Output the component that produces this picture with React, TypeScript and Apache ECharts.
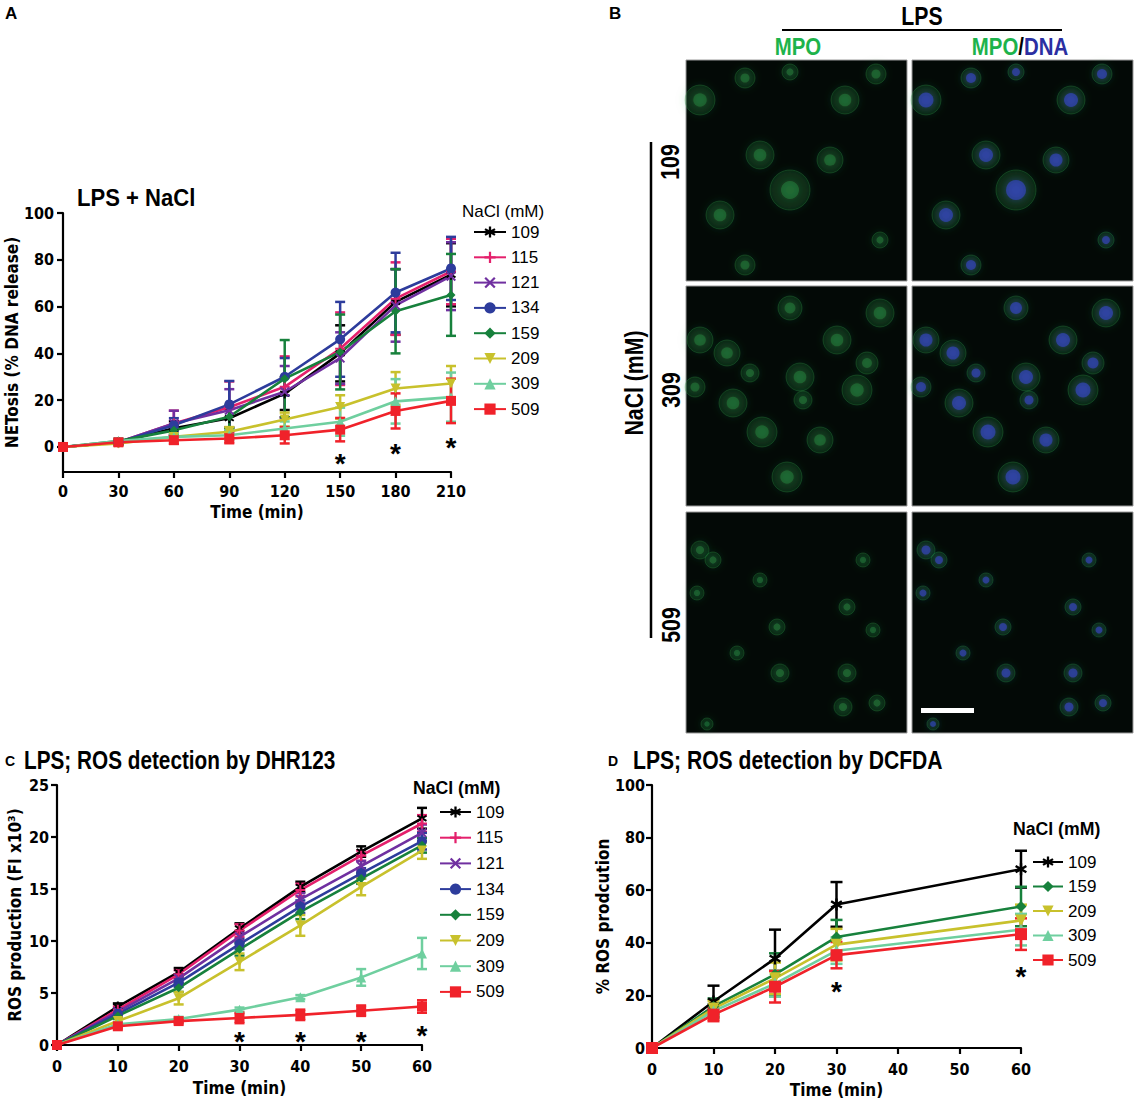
import React, { useEffect, useRef } from "react";
import * as echarts from "echarts";

const NARROW = "'DejaVu Sans Condensed', 'Liberation Sans', sans-serif";
const SANS = "'Liberation Sans', Arial, Helvetica, sans-serif";

// ---------- Panel A : NETosis (% DNA release) ----------
const concA = ["109", "115", "121", "134", "159", "209", "309", "509"];
const timeA = [0, 30, 60, 90, 120, 150, 180, 210];
const A_109 = [0, 2, 8, 12.3, 22.8, 40, 62, 73.6];
const A_115 = [0, 2, 10, 17, 25.7, 42, 63.4, 75];
const A_121 = [0, 2, 10, 15.7, 23.6, 38, 60.5, 73];
const A_134 = [0, 2, 9.3, 18.2, 30, 46, 66, 76.3];
const A_159 = [0, 2.5, 7.1, 12.9, 29.2, 40.6, 58, 65];
const A_209 = [0, 1.5, 4.3, 6.5, 11.7, 17.1, 25, 27.1];
const A_309 = [0, 2.5, 4.3, 5, 7.9, 10.8, 19.5, 21.3];
const A_509 = [0, 2, 2.9, 3.6, 5, 7.4, 15.4, 19.7];
const A_109_err = [0, 1, 3, 4, 7, 12, 14, 13.5];
const A_115_err = [0, 1, 5.5, 11, 13, 15.5, 15.5, 14];
const A_121_err = [0, 1, 5.5, 9, 11, 11, 15.5, 14.5];
const A_134_err = [0, 1, 3, 10, 8, 16, 17, 13.5];
const A_159_err = [0, 1, 2, 5, 16.5, 16, 18, 17.5];
const A_209_err = [0, 1, 1.5, 2, 3, 5, 7, 7.5];
const A_309_err = [0, 1, 1.5, 2, 3, 6, 9.5, 10.5];
const A_509_err = [0, 1, 1.5, 2, 3.5, 5, 7.5, 9.5];
const A_sig = [[150, -3.4], [180, 0.9], [210, 3.2]];
const A_yTicks = [0, 20, 40, 60, 80, 100];

// ---------- Panel C : ROS by DHR123 ----------
const concC = ["109", "115", "121", "134", "159", "209", "309", "509"];
const timeC = [0, 10, 20, 30, 40, 50, 60];
const C_109 = [0, 3.7, 7.0, 11.2, 15.2, 18.6, 21.8];
const C_115 = [0, 3.4, 6.8, 11.0, 14.9, 18.2, 21.3];
const C_121 = [0, 3.2, 6.4, 10.4, 14.0, 17.2, 20.4];
const C_134 = [0, 3.0, 6.0, 9.7, 13.3, 16.5, 19.6];
const C_159 = [0, 2.8, 5.5, 9.2, 12.8, 16.0, 19.2];
const C_209 = [0, 2.3, 4.5, 8.0, 11.5, 15.2, 18.7];
const C_309 = [0, 2.0, 2.5, 3.4, 4.6, 6.5, 8.8];
const C_509 = [0, 1.8, 2.3, 2.6, 2.9, 3.3, 3.7];
const C_109_err = [0, 0.3, 0.4, 0.5, 0.5, 0.5, 1.0];
const C_115_err = [0, 0.3, 0.4, 0.6, 0.6, 0.5, 0.8];
const C_121_err = [0, 0.3, 0.4, 0.5, 0.6, 0.5, 0.8];
const C_134_err = [0, 0.3, 0.4, 0.5, 0.6, 0.5, 0.8];
const C_159_err = [0, 0.3, 0.4, 0.6, 0.7, 0.5, 0.7];
const C_209_err = [0, 0.3, 0.6, 0.8, 1.0, 0.8, 0.8];
const C_309_err = [0, 0.2, 0.2, 0.2, 0.2, 0.8, 1.5];
const C_509_err = [0, 0.2, 0.2, 0.5, 0.5, 0.5, 0.6];
const C_sig = [[30, 1.1], [40, 1.1], [50, 1.1], [60, 1.7]];

// ---------- Panel D : ROS by DCFDA ----------
const concD = ["109", "159", "209", "309", "509"];
const timeD = [0, 10, 20, 30, 60];
const D_109 = [0, 17.7, 34, 54.6, 68];
const D_159 = [0, 15.8, 28, 42.2, 53.8];
const D_209 = [0, 15, 26.5, 39.3, 48.5];
const D_309 = [0, 14, 24.5, 37, 45];
const D_509 = [0, 12.7, 23.3, 35.3, 43.3];
const D_109_err = [0, 6, 11, 8.5, 7];
const D_159_err = [0, 3, 8, 6.5, 7.5];
const D_209_err = [0, 3, 6, 6, 6];
const D_309_err = [0, 2.5, 5, 5, 6];
const D_509_err = [0, 2.5, 6, 5, 6];
const D_sig = [[30, 24.7], [60, 30.4]];

// ---------- Panel B decorative cell blobs (relative to each image) ----------
const cellsRow1 = [[14, 40, 15], [59, 18, 10], [104, 12, 8], [159, 40, 14], [190, 14, 10], [104, 130, 20], [74, 95, 14], [34, 155, 14], [194, 180, 8], [144, 100, 13], [59, 205, 10]];
const cellsRow2 = [[14, 54, 13], [41, 67, 13], [64, 87, 9], [114, 91, 14], [104, 22, 12], [151, 54, 14], [181, 77, 11], [171, 104, 15], [47, 117, 14], [76, 146, 15], [117, 114, 9], [134, 154, 13], [101, 191, 15], [194, 27, 14], [9, 101, 10]];
const cellsRow3 = [[14, 38, 9], [27, 48, 8], [74, 68, 7], [91, 115, 8], [51, 141, 7], [94, 161, 9], [161, 95, 8], [177, 48, 7], [187, 118, 7], [161, 161, 9], [157, 195, 9], [191, 191, 8], [11, 81, 7], [21, 212, 6]];

const COLORS: Record<string, string> = {
  "109": "#000000",
  "115": "#e4206c",
  "121": "#7030a0",
  "134": "#2d3c9c",
  "159": "#17813c",
  "209": "#c8c12c",
  "309": "#6fcf9f",
  "509": "#f0222a",
};
const SYMBOLS: Record<string, string> = {
  "109": "path://M4,0h2v3.3l2.9-1.7 1,1.7-2.9,1.7 2.9,1.7-1,1.7-2.9-1.7V10H4V6.7L1.1,8.4 0.1,6.7 3,5 0.1,3.3 1.1,1.6 4,3.3Z",
  "115": "path://M4,0h2v4h4v2H6v4H4V6H0V4h4Z",
  "121": "path://M1.4,0 5,3.6 8.6,0 10,1.4 6.4,5 10,8.6 8.6,10 5,6.4 1.4,10 0,8.6 3.6,5 0,1.4Z",
  "134": "circle",
  "159": "diamond",
  "209": "path://M0,0H10L5,9Z",
  "309": "triangle",
  "509": "rect",
};

const errRender = (cap: number, color: string, lw: number) => (params: any, api: any) => {
  const x = api.value(0);
  const y = api.value(1);
  const e = api.value(2);
  if (!e) return { type: "group", children: [] };
  const hi = api.coord([x, y + e]);
  const lo = api.coord([x, y - e]);
  const st = { stroke: color, lineWidth: lw };
  return {
    type: "group",
    children: [
      { type: "line", shape: { x1: hi[0], y1: hi[1], x2: lo[0], y2: lo[1] }, style: st },
      { type: "line", shape: { x1: hi[0] - cap, y1: hi[1], x2: hi[0] + cap, y2: hi[1] }, style: st },
      { type: "line", shape: { x1: lo[0] - cap, y1: lo[1], x2: lo[0] + cap, y2: lo[1] }, style: st },
    ],
  };
};

const sigRender = (size: number) => (params: any, api: any) => {
  const c = api.coord([api.value(0), api.value(1)]);
  return {
    type: "text",
    x: c[0],
    y: c[1] + size * 0.3,
    style: { text: "*", fontSize: size, fontWeight: "bold", fontFamily: SANS, fill: "#000", align: "center", verticalAlign: "middle" },
  };
};

function makeSeries(prefix: string, conc: string, times: number[], mean: number[], err: number[], axis: number, cap: number, size: number) {
  const color = COLORS[conc];
  return [
    {
      type: "custom",
      name: "e" + prefix + conc,
      xAxisIndex: axis,
      yAxisIndex: axis,
      silent: true,
      z: 2,
      renderItem: errRender(cap, color, 2.5),
      encode: { x: 0, y: 1 },
      data: times.map((t, i) => [t, mean[i], err[i]]),
    },
    {
      type: "line",
      name: prefix + conc,
      xAxisIndex: axis,
      yAxisIndex: axis,
      z: 3,
      symbol: SYMBOLS[conc],
      symbolSize: conc === "159" ? size - 1 : size,
      showSymbol: true,
      lineStyle: { color, width: 2.6 },
      itemStyle: { color },
      data: times.map((t, i) => [t, mean[i]]),
    },
  ];
}

function axisCommon() {
  return {
    axisLine: { show: true, onZero: false, lineStyle: { color: "#000", width: 2.2 } },
    axisTick: { show: true, inside: false, length: 6, lineStyle: { color: "#000", width: 2.2 } },
    splitLine: { show: false },
    axisLabel: { color: "#000", fontFamily: NARROW, fontWeight: "bold", fontSize: 16 },
    nameTextStyle: { color: "#000", fontFamily: NARROW, fontWeight: "bold", fontSize: 17 },
  };
}

function cellGraphics(x0: number, y0: number, cells: number[][], blue: boolean) {
  const out: any[] = [];
  cells.forEach((c) => {
    out.push({
      type: "circle",
      shape: { cx: x0 + c[0], cy: y0 + c[1], r: c[2] },
      style: { fill: "rgba(30,120,55,0.22)", stroke: "rgba(50,160,80,0.28)", lineWidth: 1, shadowBlur: 8, shadowColor: "rgba(40,150,70,0.6)" },
    });
    out.push({
      type: "circle",
      shape: { cx: x0 + c[0], cy: y0 + c[1], r: c[2] * (blue ? 0.5 : 0.45) },
      style: blue
        ? { fill: "rgba(55,70,200,0.62)", shadowBlur: 7, shadowColor: "rgba(60,90,220,0.7)" }
        : { fill: "rgba(45,165,80,0.35)", shadowBlur: 7, shadowColor: "rgba(50,180,90,0.6)" },
    });
  });
  return out;
}

export default function App() {
  const ref = useRef<HTMLDivElement>(null);
  useEffect(() => {
    if (!ref.current) return;
    const chart = echarts.init(ref.current, null, { renderer: "svg" });

    const aMeans = [A_109, A_115, A_121, A_134, A_159, A_209, A_309, A_509];
    const aErrs = [A_109_err, A_115_err, A_121_err, A_134_err, A_159_err, A_209_err, A_309_err, A_509_err];
    const cMeans = [C_109, C_115, C_121, C_134, C_159, C_209, C_309, C_509];
    const cErrs = [C_109_err, C_115_err, C_121_err, C_134_err, C_159_err, C_209_err, C_309_err, C_509_err];
    const dMeans = [D_109, D_159, D_209, D_309, D_509];
    const dErrs = [D_109_err, D_159_err, D_209_err, D_309_err, D_509_err];

    const series: any[] = [];
    concA.forEach((c, i) => series.push(...makeSeries("A", c, timeA, aMeans[i], aErrs[i], 0, 5, 10)));
    concC.forEach((c, i) => series.push(...makeSeries("C", c, timeC, cMeans[i], cErrs[i], 1, 5, 10)));
    concD.forEach((c, i) => series.push(...makeSeries("D", c, timeD, dMeans[i], dErrs[i], 2, 6, 12)));
    series.push({ type: "custom", name: "sigA", xAxisIndex: 0, yAxisIndex: 0, silent: true, z: 5, renderItem: sigRender(28), encode: { x: 0, y: 1 }, data: A_sig });
    series.push({ type: "custom", name: "sigC", xAxisIndex: 1, yAxisIndex: 1, silent: true, z: 5, renderItem: sigRender(28), encode: { x: 0, y: 1 }, data: C_sig });
    series.push({ type: "custom", name: "sigD", xAxisIndex: 2, yAxisIndex: 2, silent: true, z: 5, renderItem: sigRender(28), encode: { x: 0, y: 1 }, data: D_sig });

    const legendBase = (names: string[], left: number, top: number, w: number, gap: number) => ({
      data: names,
      orient: "vertical",
      left,
      top,
      padding: 0,
      itemWidth: w,
      itemHeight: 14,
      itemGap: gap,
      selectedMode: false,
      formatter: (n: string) => n.slice(1),
      textStyle: { color: "#000", fontFamily: SANS, fontSize: 17, lineHeight: 18 },
    });

    const imgL = 686, imgR = 912, imgW = 221;
    const rowsY = [60, 286, 512];
    const rowsH = [221, 220, 221];
    const cellSets = [cellsRow1, cellsRow2, cellsRow3];
    const graphics: any[] = [];
    rowsY.forEach((y, r) => {
      [imgL, imgR].forEach((x, k) => {
        graphics.push({ type: "rect", shape: { x, y, width: imgW, height: rowsH[r] }, style: { fill: "#030906", stroke: "#9a9a9a", lineWidth: 1 } });
        graphics.push(...cellGraphics(x, y, cellSets[r], k === 1));
      });
    });
    const T = (x: number, y: number, text: string, font: any, extra: any = {}) => ({
      type: "text",
      x,
      y,
      ...extra,
      style: { text, fill: "#000", align: "left", verticalAlign: "middle", ...font },
    });
    const BOLD = { fontFamily: SANS, fontWeight: "bold" };
    graphics.push(
      { type: "rect", shape: { x: 921, y: 708, width: 53, height: 5 }, style: { fill: "#ffffff" } },
      T(5, 13, "A", { ...BOLD, fontSize: 17 }),
      T(609, 13, "B", { ...BOLD, fontSize: 17 }),
      T(922, 16, "LPS", { ...BOLD, fontSize: 25, align: "center" }, { scaleX: 0.85 }),
      { type: "line", shape: { x1: 782, y1: 30, x2: 1062, y2: 30 }, style: { stroke: "#000", lineWidth: 2 } },
      T(798, 47, "MPO", { ...BOLD, fontSize: 24, align: "center", fill: "#1db34b" }, { scaleX: 0.85 }),
      T(1020, 47, "{g|MPO}{k|/}{b|DNA}", {
        ...BOLD, fontSize: 24, align: "center",
        rich: {
          g: { fill: "#1db34b", ...BOLD, fontSize: 24 },
          k: { fill: "#000", ...BOLD, fontSize: 24 },
          b: { fill: "#2b2fa2", ...BOLD, fontSize: 24 },
        },
      }, { scaleX: 0.85 }),
      { type: "line", shape: { x1: 651, y1: 142, x2: 651, y2: 638 }, style: { stroke: "#000", lineWidth: 2.5 } },
      T(634, 383, "NaCl (mM)", { ...BOLD, fontSize: 25, align: "center" }, { rotation: Math.PI / 2, scaleX: 0.85 }),
      T(670, 162, "109", { ...BOLD, fontSize: 25, align: "center" }, { rotation: Math.PI / 2, scaleX: 0.85 }),
      T(671, 390, "309", { ...BOLD, fontSize: 25, align: "center" }, { rotation: Math.PI / 2, scaleX: 0.85 }),
      T(671, 625, "509", { ...BOLD, fontSize: 25, align: "center" }, { rotation: Math.PI / 2, scaleX: 0.85 }),
      T(77, 198, "LPS + NaCl", { ...BOLD, fontSize: 24 }, { scaleX: 0.92 }),
      T(462, 211, "NaCl (mM)", { fontFamily: SANS, fontSize: 17 }),
      T(5, 761, "C", { ...BOLD, fontSize: 14 }),
      T(24, 760, "LPS; ROS detection by DHR123", { ...BOLD, fontSize: 25 }, { scaleX: 0.83 }),
      T(413, 787, "NaCl (mM)", { ...BOLD, fontSize: 19 }, { scaleX: 0.93 }),
      T(608, 761, "D", { ...BOLD, fontSize: 14 }),
      T(633, 760, "LPS; ROS detection by DCFDA", { ...BOLD, fontSize: 25 }, { scaleX: 0.845 }),
      T(1013, 828, "NaCl (mM)", { ...BOLD, fontSize: 19 }, { scaleX: 0.93 })
    );

    const ac = axisCommon();
    chart.setOption({
      animation: false,
      backgroundColor: "#ffffff",
      grid: [
        { left: 63, top: 213, width: 388, height: 259, containLabel: false },
        { left: 57, top: 785, width: 365, height: 260, containLabel: false },
        { left: 652, top: 785, width: 369, height: 263, containLabel: false },
      ],
      xAxis: [
        { ...ac, gridIndex: 0, type: "value", min: 0, max: 210, interval: 30, name: "Time (min)", nameLocation: "middle", nameGap: 31, axisLabel: { ...ac.axisLabel, margin: 11 } },
        { ...ac, gridIndex: 1, type: "value", min: 0, max: 60, interval: 10, name: "Time (min)", nameLocation: "middle", nameGap: 34, axisLabel: { ...ac.axisLabel, margin: 13 } },
        { ...ac, gridIndex: 2, type: "value", min: 0, max: 60, interval: 10, name: "Time (min)", nameLocation: "middle", nameGap: 33, axisLabel: { ...ac.axisLabel, margin: 13 } },
      ],
      yAxis: [
        {
          ...ac, gridIndex: 0, type: "value", min: -10.7, max: 100,
          axisTick: { ...ac.axisTick, customValues: A_yTicks },
          axisLabel: { ...ac.axisLabel, margin: 9, customValues: A_yTicks },
          name: "NETosis (% DNA release)", nameLocation: "middle", nameGap: 43,
        },
        { ...ac, gridIndex: 1, type: "value", min: 0, max: 25, interval: 5, name: "ROS production (FI x10³)", nameLocation: "middle", nameGap: 34, axisLabel: { ...ac.axisLabel, margin: 8 } },
        { ...ac, gridIndex: 2, type: "value", min: 0, max: 100, interval: 20, name: "% ROS prodcution", nameLocation: "middle", nameGap: 38, axisLabel: { ...ac.axisLabel, margin: 7 } },
      ],
      legend: [
        legendBase(concA.map((c) => "A" + c), 473, 223, 32, 7.3),
        legendBase(concC.map((c) => "C" + c), 439, 803, 31, 7.7),
        legendBase(concD.map((c) => "D" + c), 1032, 853, 30, 6.5),
      ],
      graphic: graphics,
      series,
    });
    return () => chart.dispose();
  }, []);
  return <div ref={ref} style={{ position: "absolute", left: 0, top: 0, width: 1139, height: 1103 }} />;
}
